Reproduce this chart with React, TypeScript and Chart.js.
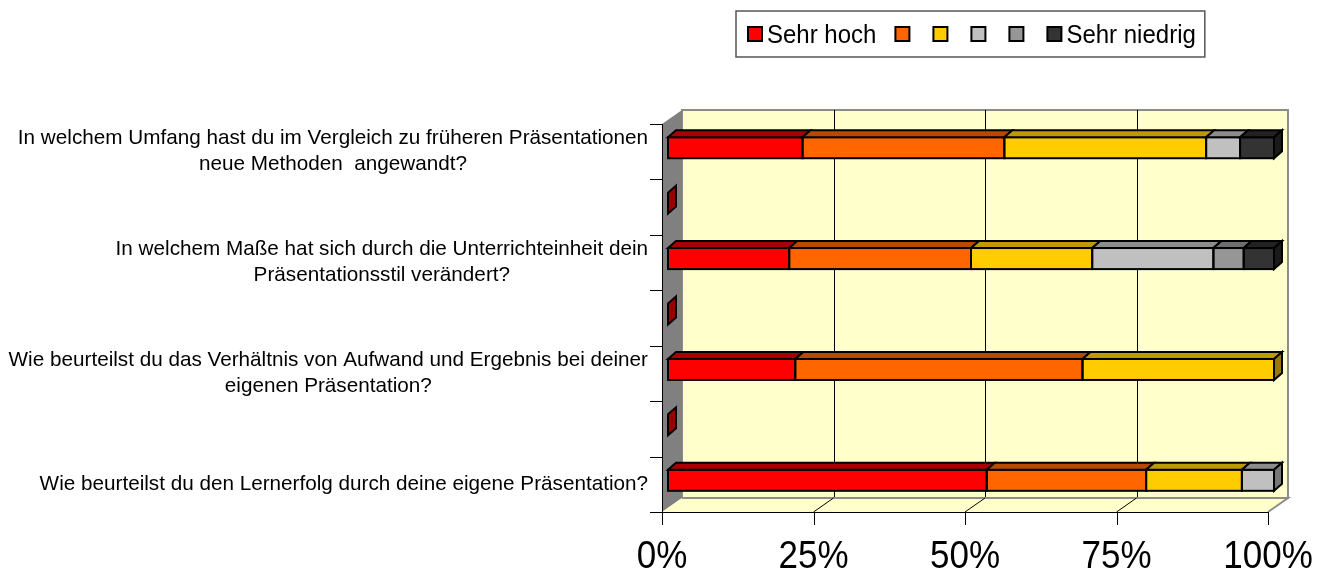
import React, { useEffect, useRef } from 'react';
import { Chart, registerables } from 'chart.js';

Chart.register(...registerables);

// ---- data ----
const categoryLabels: string[][] = [
  ['In welchem Umfang hast du im Vergleich zu früheren Präsentationen', 'neue Methoden  angewandt?'],
  [],
  ['In welchem Maße hat sich durch die Unterrichteinheit dein', 'Präsentationsstil verändert?'],
  [],
  ['Wie beurteilst du das Verhältnis von Aufwand und Ergebnis bei deiner', 'eigenen Präsentation?'],
  [],
  ['Wie beurteilst du den Lernerfolg durch deine eigene Präsentation?'],
];

const seriesNames = ['Sehr hoch', '', '', '', '', 'Sehr niedrig'];

const sehrHoch = [22.2, null, 20, null, 21.0, null, 52.6];
const hoch = [33.3, null, 30, null, 47.4, null, 26.3];
const mittelHoch = [33.3, null, 20, null, 31.6, null, 15.8];
const mittelNiedrig = [5.6, null, 20, null, 0, null, 5.3];
const niedrig = [0, null, 5, null, 0, null, 0];
const sehrNiedrig = [5.6, null, 5, null, 0, null, 0];

const xTicks = [0, 25, 50, 75, 100];

// ---- styles ----
const frontColors = ['#FF0000', '#FF6600', '#FFCC00', '#C0C0C0', '#969696', '#333333'];
const topColors = ['#A80000', '#B84A00', '#BF9900', '#8C8C8C', '#6E6E6E', '#222222'];
const sideColors = ['#990000', '#993D00', '#997A00', '#777777', '#5A5A5A', '#1A1A1A'];

const FONT = '"Liberation Sans", Arial, sans-serif';
const FRONT_SHIFT_X = -6;
const FRONT_SHIFT_Y = 4;
const WALL_DX = 20;
const WALL_DY = -14;
const BAR_DX = 8;
const BAR_DY = -7;

const allSeries = [sehrHoch, hoch, mittelHoch, mittelNiedrig, niedrig, sehrNiedrig];

function stretchedText(ctx: CanvasRenderingContext2D, s: string, x: number, y: number, sy: number) {
  ctx.save();
  ctx.translate(x, y);
  ctx.scale(1, sy);
  ctx.fillText(s, 0, 0);
  ctx.restore();
}

const scenePlugin = {
  id: 'scene3d',
  beforeDatasetsDraw(chart: any) {
    const { ctx, chartArea: ca, scales } = chart;
    const xs = scales.x;
    const fx = (v: number) => xs.getPixelForValue(v) + FRONT_SHIFT_X;
    const L = fx(0);
    const R = fx(100);
    const T = ca.top + FRONT_SHIFT_Y;
    const B = ca.bottom + FRONT_SHIFT_Y;
    ctx.save();
    // back wall
    ctx.fillStyle = '#FFFFCC';
    ctx.fillRect(L + WALL_DX, T + WALL_DY, R - L, B - T);
    ctx.strokeStyle = '#8C8C8C';
    ctx.lineWidth = 2;
    ctx.strokeRect(L + WALL_DX, T + WALL_DY, R - L, B - T);
    // gridlines on back wall
    ctx.strokeStyle = '#000000';
    ctx.lineWidth = 1;
    for (const v of xTicks.slice(1, -1)) {
      const gx = Math.round(fx(v) + WALL_DX) + 0.5;
      ctx.beginPath();
      ctx.moveTo(gx, T + WALL_DY);
      ctx.lineTo(gx, B + WALL_DY);
      ctx.stroke();
    }
    // left wall
    ctx.fillStyle = '#808080';
    ctx.beginPath();
    ctx.moveTo(L, T);
    ctx.lineTo(L + WALL_DX, T + WALL_DY);
    ctx.lineTo(L + WALL_DX, B + WALL_DY);
    ctx.lineTo(L, B);
    ctx.closePath();
    ctx.fill();
    // floor
    ctx.fillStyle = '#FFFFCC';
    ctx.beginPath();
    ctx.moveTo(L, B);
    ctx.lineTo(L + WALL_DX, B + WALL_DY);
    ctx.lineTo(R + WALL_DX, B + WALL_DY);
    ctx.lineTo(R, B);
    ctx.closePath();
    ctx.fill();
    ctx.strokeStyle = '#8C8C8C';
    ctx.lineWidth = 2;
    ctx.beginPath();
    ctx.moveTo(L + WALL_DX, B + WALL_DY);
    ctx.lineTo(R + WALL_DX, B + WALL_DY);
    ctx.lineTo(R, B);
    ctx.stroke();
    // floor grid slants
    ctx.strokeStyle = '#000000';
    ctx.lineWidth = 1;
    for (const v of xTicks.slice(1, -1)) {
      ctx.beginPath();
      ctx.moveTo(fx(v), B);
      ctx.lineTo(fx(v) + WALL_DX, B + WALL_DY);
      ctx.stroke();
    }
    // y axis line and category ticks
    const n = categoryLabels.length;
    const band = (B - T) / n;
    ctx.strokeStyle = '#000000';
    ctx.lineWidth = 1;
    const lx = Math.round(L) + 0.5;
    ctx.beginPath();
    ctx.moveTo(lx, T);
    ctx.lineTo(lx, B + 13);
    for (let k = 0; k <= n; k++) {
      const ty = Math.round(T + k * band) + 0.5;
      ctx.moveTo(L - 12, ty);
      ctx.lineTo(k === n ? R : L, ty);
    }
    for (const v of xTicks.slice(1)) {
      const tx = Math.round(fx(v)) + 0.5;
      ctx.moveTo(tx, B);
      ctx.lineTo(tx, B + 13);
    }
    ctx.stroke();
    // x tick labels
    ctx.fillStyle = '#000000';
    ctx.font = `35px ${FONT}`;
    ctx.textAlign = 'center';
    ctx.textBaseline = 'alphabetic';
    for (const v of xTicks) {
      stretchedText(ctx, `${v}%`, fx(v), B + 56, 1.1);
    }
    // category labels
    ctx.font = `20.7px ${FONT}`;
    ctx.textBaseline = 'middle';
    const lineH = 26;
    const rightEdge = L - 14;
    categoryLabels.forEach((lines, i) => {
      if (!lines.length) return;
      const cy = T + (i + 0.5) * band;
      const w = Math.max(...lines.map((s) => ctx.measureText(s).width));
      const cx = rightEdge - w / 2;
      const y0 = cy - ((lines.length - 1) * lineH) / 2;
      lines.forEach((s, j) => ctx.fillText(s, cx, y0 + j * lineH));
    });
    ctx.restore();
  },
  afterDatasetsDraw(chart: any) {
    const { ctx } = chart;
    ctx.save();
    ctx.strokeStyle = '#000000';
    ctx.lineWidth = 2;
    ctx.lineJoin = 'miter';
    const n = categoryLabels.length;
    for (let i = 0; i < n; i++) {
      let last = -1;
      let lastEl: any = null;
      for (let d = 0; d < allSeries.length; d++) {
        const el = chart.getDatasetMeta(d).data[i];
        const v = allSeries[d][i];
        if (v == null || v <= 0 || !el) continue;
        const { x, y, base, height } = el.getProps(['x', 'y', 'base', 'height'], true);
        const top = y - height / 2;
        // front outline
        ctx.strokeRect(base, top, x - base, height);
        // top face
        ctx.fillStyle = topColors[d];
        ctx.beginPath();
        ctx.moveTo(base, top);
        ctx.lineTo(base + BAR_DX, top + BAR_DY);
        ctx.lineTo(x + BAR_DX, top + BAR_DY);
        ctx.lineTo(x, top);
        ctx.closePath();
        ctx.fill();
        ctx.stroke();
        last = d;
        lastEl = { x, y, height };
      }
      let sx: number, sy: number, sh: number, color: string;
      if (last >= 0) {
        sx = lastEl.x;
        sy = lastEl.y;
        sh = lastEl.height;
        color = sideColors[last];
      } else {
        sx = chart.scales.x.getPixelForValue(0);
        sy = chart.scales.y.getPixelForValue(i);
        sh = 21;
        color = sideColors[0];
      }
      const top = sy - sh / 2;
      ctx.fillStyle = color;
      ctx.beginPath();
      ctx.moveTo(sx, top);
      ctx.lineTo(sx + BAR_DX, top + BAR_DY);
      ctx.lineTo(sx + BAR_DX, top + sh + BAR_DY);
      ctx.lineTo(sx, top + sh);
      ctx.closePath();
      ctx.fill();
      ctx.stroke();
    }
    ctx.restore();
  },
};

const legendPlugin = {
  id: 'boxLegend',
  afterDraw(chart: any) {
    const { ctx } = chart;
    ctx.save();
    const boxL = 736;
    const boxT = 11;
    const boxH = 46;
    ctx.font = `24px ${FONT}`;
    let x = boxL + 11;
    const items: { sx: number; tx: number; label: string; color: string }[] = [];
    seriesNames.forEach((label, d) => {
      const sx = x;
      x += 15;
      let tx = 0;
      if (label) {
        x += 5;
        tx = x;
        x += ctx.measureText(label).width;
        x += 18;
      } else {
        x += 23;
      }
      items.push({ sx, tx, label, color: frontColors[d] });
    });
    const boxR = x - 18 + 9;
    ctx.fillStyle = '#FFFFFF';
    ctx.fillRect(boxL, boxT, boxR - boxL, boxH);
    ctx.strokeStyle = '#555555';
    ctx.lineWidth = 1.5;
    ctx.strokeRect(boxL, boxT, boxR - boxL, boxH);
    const cy = boxT + boxH / 2;
    items.forEach((it) => {
      ctx.fillStyle = it.color;
      ctx.fillRect(it.sx + 1, cy - 7, 14, 14);
      ctx.strokeStyle = '#000000';
      ctx.lineWidth = 2;
      ctx.strokeRect(it.sx + 1, cy - 7, 14, 14);
      if (it.label) {
        ctx.fillStyle = '#000000';
        ctx.textAlign = 'left';
        ctx.textBaseline = 'alphabetic';
        stretchedText(ctx, it.label, it.tx, cy + 9, 1.1);
      }
    });
    ctx.restore();
  },
};

export default function App() {
  const ref = useRef<HTMLCanvasElement | null>(null);
  useEffect(() => {
    if (!ref.current) return;
    const chart = new Chart(ref.current, {
      type: 'bar',
      data: {
        labels: categoryLabels.map((l) => l.join(' ')),
        datasets: allSeries.map((data, d) => ({
          label: seriesNames[d],
          data: data as any,
          backgroundColor: frontColors[d],
          borderWidth: 0,
          categoryPercentage: 1,
          barPercentage: 0.38,
        })),
      },
      options: {
        indexAxis: 'y',
        responsive: false,
        animation: false,
        layout: { padding: { left: 668, right: 57, top: 120, bottom: 61 } },
        plugins: { legend: { display: false }, tooltip: { enabled: false } },
        scales: {
          x: { stacked: true, min: 0, max: 100, display: false },
          y: { stacked: true, display: false },
        },
      },
      plugins: [scenePlugin, legendPlugin],
    });
    return () => chart.destroy();
  }, []);
  return (
    <div style={{ position: 'absolute', left: 0, top: 0, width: 1331, height: 569, background: '#FFFFFF' }}>
      <canvas ref={ref} width={1331} height={569} style={{ display: 'block' }} />
    </div>
  );
}
